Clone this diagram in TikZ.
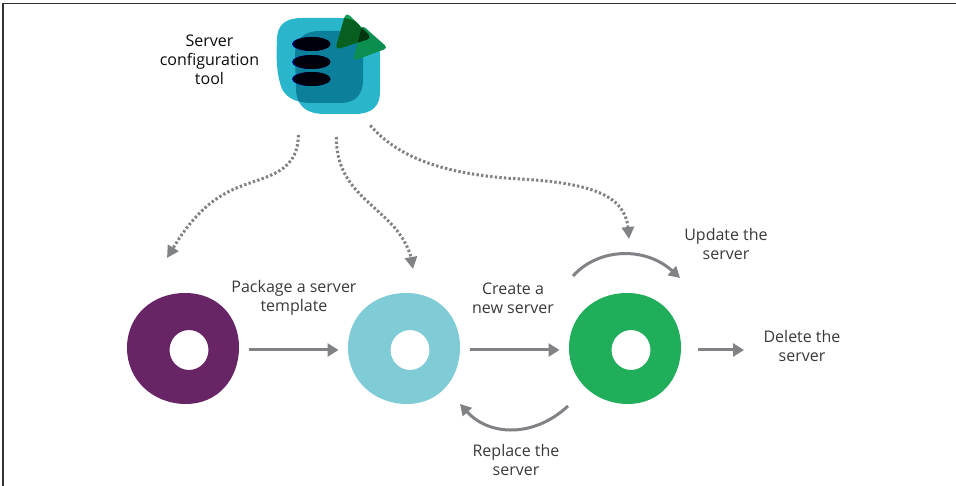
\documentclass[tikz,border=0pt]{standalone}
\usepackage{fontspec}
\setmainfont{Open Sans}
\usetikzlibrary{arrows.meta,calc}
\definecolor{txt}{HTML}{3A3A3A}
\definecolor{conn}{HTML}{808285}
\definecolor{cpurple}{HTML}{682566}
\definecolor{cteal}{HTML}{7FCCD6}
\definecolor{cgreen}{HTML}{20AE5B}
\definecolor{ccyan}{HTML}{29B6CC}
\definecolor{coverlap}{HTML}{0C7F9A}
\definecolor{tgreen}{HTML}{12A052}
\definecolor{tdark}{HTML}{07601F}
\definecolor{tmid}{HTML}{0B8F50}
\definecolor{tblack}{HTML}{03350F}
\tikzset{
  label text/.style={font=\fontsize{16}{19}\selectfont, text=txt, align=center, inner sep=0pt},
  title text/.style={font=\fontsize{16}{19}\selectfont, text=black!95, align=center, inner sep=0pt},
  hit/.style={minimum width=112pt, minimum height=111pt, inner sep=0pt, outer sep=0pt},
  flow/.style={draw=conn, line width=3pt, -{Triangle[length=11pt,width=13pt]}},
  arcconn/.style={draw=conn, line width=3pt, -{Triangle[length=11pt,width=12pt]}},
  dotconn/.style={draw=conn, line width=3pt, dash pattern=on 2.4pt off 2.2pt, -{Triangle[length=12pt,width=12pt]}},
  blob/.pic={
    \fill[even odd rule, pic actions]
      (-62,-2) .. controls (-62,-35) and (-36,-57) .. (-4,-57)
      .. controls (30,-57) and (50,-32) .. (50,-3)
      .. controls (50,30) and (28,54) .. (-3,54)
      .. controls (-36,54) and (-62,30) .. (-62,-2) -- cycle
      (0,0) circle[x radius=19.5, y radius=20];
  }
}
\newcommand{\squareA}{(302,18) .. controls (285,18) and (277,25) .. (277,40)
  .. controls (276,60) and (277,72) .. (280,83) .. controls (283,97) and (295,103) .. (312,103)
  -- (340,103) .. controls (356,103) and (363,94) .. (363,80) -- (363,40) .. controls (363,24) and (356,18) .. (340,18) -- cycle}
\newcommand{\squareB}{(320,31) .. controls (303,31) and (295,40) .. (295,55)
  -- (296,90) .. controls (297,106) and (306,114) .. (325,114)
  -- (355,114) .. controls (372,114) and (380,106) .. (380,92) -- (380,55) .. controls (380,40) and (372,31) .. (355,31) -- cycle}
\newcommand{\triA}{[rounded corners=5pt] (346,12) -- (372,38) -- (335,50) -- cycle}
\newcommand{\triB}{[rounded corners=4pt] (362,25) -- (388,48) -- (353,61) -- cycle}
\begin{document}
\begin{tikzpicture}[x=1pt,y=-1pt]
\useasboundingbox (0,0) rectangle (956,486);
\fill[white] (0,0) rectangle (956,486);
\draw[black!80, line width=1.8pt] (3,486) -- (3,3.5) -- (956,3.5);

% tool icon
\fill[ccyan] \squareA;
\fill[ccyan] \squareB;
\begin{scope}
\clip \squareA;
\fill[coverlap] \squareB;
\end{scope}
\foreach \yy in {44,62,79}{
  \fill[blue!55!black] (311,\yy) ellipse[x radius=19, y radius=7];
  \fill[black!95!blue] (312,\yy) ellipse[x radius=18.6, y radius=7];
}
\fill[tgreen] \triA;
\begin{scope}
\clip \squareA;
\fill[tdark] \triA;
\end{scope}
\fill[tmid] \triB;
\begin{scope}
\clip \triB;
\fill[tblack] \triA;
\end{scope}
\node[hit, minimum width=107pt, minimum height=98pt] (tool) at (330.5,65) {};
\node[title text] (toolname) at (209.5,59.5) {Server\\configuration\\tool};

% blobs
\pic[cpurple] at (189,350) {blob};
\pic[cteal] at (410,350) {blob};
\pic[cgreen] at (631,350) {blob};
\node[hit] (purple) at (183.5,348.5) {};
\node[hit] (teal) at (404,348.5) {};
\node[hit] (green) at (625,348.5) {};
\coordinate (del) at (744,350);
\coordinate (dot1) at (167,258);
\coordinate (dot2) at (413,269);
\coordinate (dot3) at (629,239);

% connectors
\draw[flow, shorten <=9pt, shorten >=9.5pt] (purple.east |- 0,350) -- (teal.west |- 0,350);
\draw[flow, shorten <=10pt, shorten >=9.5pt] (teal.east |- 0,350) -- (green.west |- 0,350);
\draw[flow, shorten <=17pt] (green.east |- 0,350) -- (del);
\draw[arcconn] ([xshift=-52pt,yshift=17pt]green.north) .. controls (598,248) and (645,246) .. ([xshift=55pt,yshift=15pt]green.north);
\draw[arcconn] ([xshift=-57pt,yshift=-2pt]green.south) .. controls (535,437) and (490,437) .. ([xshift=56pt,yshift=0pt]teal.south);

\draw[dotconn, shorten <=21pt] ([xshift=-32pt]tool.south) .. controls (298,178) and (258,176) .. (228,192) .. controls (200,206) and (183,232) .. (dot1);
\draw[dotconn, shorten <=23pt] ([xshift=6pt]tool.south) .. controls (336,185) and (370,200) .. (395,228) .. controls (405,240) and (410,252) .. (dot2);
\draw[dotconn, shorten <=15pt] ([xshift=30pt]tool.south) .. controls (400,160) and (450,175) .. (520,179) .. controls (590,183) and (625,195) .. (dot3);

% labels
\node[label text] (lpack) at (294,298) {Package a server\\template};
\node[label text] (lcreate) at (513,298) {Create a\\new server};
\node[label text] (lupdate) at (726,244.5) {Update the\\server};
\node[label text] (ldelete) at (802,346) {Delete the\\server};
\node[label text] (lreplace) at (516,460) {Replace the\\server};
\end{tikzpicture}
\end{document}
